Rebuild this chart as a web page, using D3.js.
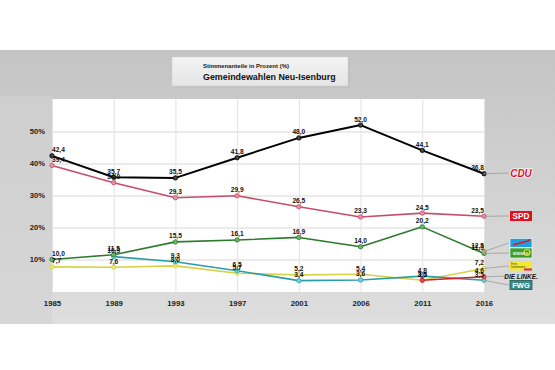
<!DOCTYPE html>
<html>
<head>
<meta charset="utf-8">
<script src="https://cdn.jsdelivr.net/npm/d3@7"></script>
<style>
  body { margin: 0; background: #fff; }
  svg { display: block; font-family: Arial, "Liberation Sans", sans-serif; }
</style>
</head>
<body>
<svg id="chart" width="555" height="370"></svg>
<script>
// data
const years = ["1985", "1989", "1993", "1997", "2001", "2006", "2011", "2016"];
const cdu    = [42.4, 35.7, 35.5, 41.8, 48.0, 52.0, 44.1, 36.8];
const spd    = [39.4, 34.0, 29.3, 29.9, 26.5, 23.3, 24.5, 23.5];
const gruene = [10.0, 11.5, 15.5, 16.1, 16.9, 14.0, 20.2, 11.9];
const fwg    = [null, 10.9, 9.3, 6.5, 3.4, 3.6, 4.8, 3.5];
const fdp    = [7.7, 7.6, 8.0, 5.7, 5.2, 5.4, 3.5, 7.2];
const linke  = [null, null, null, null, null, null, 3.5, 4.6];
const afd    = [null, null, null, null, null, null, null, 12.5];
const yTicks = [10, 20, 30, 40, 50];

const svg = d3.select("#chart");
const W = 555;

// background band
const defs = svg.append("defs");
const bg = defs.append("linearGradient").attr("id", "bg").attr("x1", 0).attr("y1", 0).attr("x2", 0).attr("y2", 1);
bg.append("stop").attr("offset", "0%").attr("stop-color", "#c4c4c4");
bg.append("stop").attr("offset", "100%").attr("stop-color", "#dedede");
const tb = defs.append("linearGradient").attr("id", "tb").attr("x1", 0).attr("y1", 0).attr("x2", 0).attr("y2", 1);
tb.append("stop").attr("offset", "0%").attr("stop-color", "#f4f4f4");
tb.append("stop").attr("offset", "100%").attr("stop-color", "#e4e4e4");

svg.append("rect").attr("x", 0).attr("y", 50).attr("width", W).attr("height", 274).attr("fill", "url(#bg)");
svg.append("rect").attr("x", 0).attr("y", 96).attr("width", 52).attr("height", 228).attr("fill", "#d2d2d2").attr("opacity", 0.6);

const x = d3.scalePoint().domain(years).range([52, 484]);
const y = d3.scaleLinear().domain([0, 60]).range([291.5, 99.5]);

// plot area
svg.append("rect").attr("x", 52).attr("y", 99).attr("width", 432).attr("height", 193).attr("fill", "#fff");

// title box
svg.append("rect").attr("x", 173).attr("y", 58).attr("width", 176).attr("height", 29)
  .attr("fill", "#bbb").attr("opacity", 0.5).attr("transform", "translate(1,1)");
svg.append("rect").attr("x", 172).attr("y", 57).attr("width", 176).attr("height", 29)
  .attr("fill", "url(#tb)").attr("stroke", "#d0d0d0").attr("stroke-width", 0.5);
svg.append("text").attr("x", 203).attr("y", 67.5).attr("font-size", 6).attr("font-weight", "bold")
  .attr("fill", "#222").text("Stimmenanteile in Prozent (%)");
svg.append("text").attr("x", 203).attr("y", 80).attr("font-size", 8.9).attr("font-weight", "bold")
  .attr("fill", "#111").text("Gemeindewahlen Neu-Isenburg");

// grid
svg.append("g").attr("transform", "translate(52,0)")
  .call(d3.axisLeft(y).tickValues(yTicks).tickSize(-432).tickFormat(""))
  .call(g => g.select(".domain").remove())
  .call(g => g.selectAll("line").attr("stroke", "#e4e4e4").attr("stroke-width", 1.5));
svg.append("g").attr("transform", "translate(0,292)")
  .call(d3.axisBottom(x).tickSize(-193).tickFormat(""))
  .call(g => g.select(".domain").remove())
  .call(g => g.selectAll("line").attr("stroke", "#e2e2e2").attr("stroke-width", 1));

// axes labels
svg.append("g").attr("transform", "translate(47,0)")
  .call(d3.axisLeft(y).tickValues(yTicks).tickSize(0).tickPadding(2).tickFormat(d => d + "%"))
  .call(g => g.select(".domain").remove())
  .call(g => g.selectAll("text").attr("font-size", 7.6).attr("font-weight", "bold").attr("fill", "#222")
    .attr("font-family", "Arial, 'Liberation Sans', sans-serif"));
svg.append("g").attr("transform", "translate(0,292)")
  .call(d3.axisBottom(x).tickSize(0).tickPadding(8))
  .call(g => g.select(".domain").remove())
  .call(g => g.selectAll("text").attr("font-size", 7.8).attr("font-weight", "bold").attr("fill", "#222")
    .attr("font-family", "Arial, 'Liberation Sans', sans-serif"));

// series
const series = [
  { name: "fdp", values: fdp, color: "#d6d244", fill: "#ecea70", w: 1.6 },
  { name: "fwg", values: fwg, color: "#2a9ea8", fill: "#6fd6e6", w: 1.6 },
  { name: "linke", values: linke, color: "#d21f2e", fill: "#f04050", w: 1.6 },
  { name: "gruene", values: gruene, color: "#2c7a2c", fill: "#6ab86a", w: 1.6 },
  { name: "afd", values: afd, color: "#3a9ad8", fill: "#e0a040", w: 1.2 },
  { name: "spd", values: spd, color: "#c64e6a", fill: "#e890a4", w: 1.6 },
  { name: "cdu", values: cdu, color: "#000", fill: "#444", w: 2 }
];

const line = d3.line()
  .defined(d => d.v != null)
  .x(d => x(d.year))
  .y(d => y(d.v));

series.forEach(s => {
  const pts = years.map((yr, i) => ({ year: yr, v: s.values[i], i }));
  svg.append("path").datum(pts).attr("fill", "none").attr("stroke", s.color)
    .attr("stroke-width", s.w).attr("stroke-linejoin", "round").attr("d", line);
  svg.append("g").selectAll("circle").data(pts.filter(d => d.v != null)).join("circle")
    .attr("cx", d => x(d.year)).attr("cy", d => y(d.v)).attr("r", 2.2)
    .attr("fill", s.fill).attr("stroke", s.color).attr("stroke-width", 0.8);
});

// value labels
const fmt = v => d3.format(".1f")(v).replace(".", ",");
series.forEach(s => {
  const pts = years.map((yr, i) => ({ year: yr, v: s.values[i], i })).filter(d => d.v != null);
  svg.append("g").selectAll("text").data(pts).join("text")
    .attr("x", d => x(d.year)).attr("y", d => y(d.v) - 3.5)
    .attr("text-anchor", d => d.i === 0 ? "start" : d.i === years.length - 1 ? "end" : "middle")
    .attr("font-size", 6.6).attr("font-weight", "bold").attr("fill", "#111")
    .text(d => fmt(d.v));
});

// party logos with leader lines
const last = years[years.length - 1];
const lx = x(last);
const logos = [
  { v: cdu[7], ty: 173 },
  { v: spd[7], ty: 216 },
  { v: afd[7], ty: 243 },
  { v: gruene[7], ty: 253 },
  { v: fdp[7], ty: 266 },
  { v: linke[7], ty: 276 },
  { v: fwg[7], ty: 285 }
];
svg.append("g").selectAll("line").data(logos).join("line")
  .attr("x1", lx).attr("y1", d => y(d.v)).attr("x2", 509).attr("y2", d => d.ty)
  .attr("stroke", "#9a9a9a").attr("stroke-width", 0.8);

const lg = svg.append("g");
// CDU
lg.append("text").attr("x", 521).attr("y", 177).attr("text-anchor", "middle")
  .attr("font-size", 10).attr("font-weight", "bold").attr("font-style", "italic")
  .attr("fill", "#d8102a").attr("stroke", "#fff").attr("stroke-width", 1.6).attr("paint-order", "stroke").text("CDU");
// SPD
lg.append("rect").attr("x", 510).attr("y", 211).attr("width", 22).attr("height", 10).attr("fill", "#e0101e");
lg.append("text").attr("x", 521).attr("y", 219.2).attr("text-anchor", "middle")
  .attr("font-size", 8.2).attr("font-weight", "bold").attr("fill", "#fff").text("SPD");
// AfD
lg.append("rect").attr("x", 510).attr("y", 238.5).attr("width", 22).attr("height", 9).attr("fill", "#1ea0e0").attr("stroke", "#fff").attr("stroke-width", 0.6);
lg.append("path").attr("d", "M513,245 L520,243 L528,241 L530,239.5").attr("fill", "none").attr("stroke", "#e01818").attr("stroke-width", 1.6);
// Gruene
lg.append("rect").attr("x", 510).attr("y", 248).attr("width", 22).attr("height", 10).attr("fill", "#3aa02a").attr("stroke", "#fff").attr("stroke-width", 0.6);
lg.append("circle").attr("cx", 527).attr("cy", 252.5).attr("r", 3).attr("fill", "none").attr("stroke", "#e6e030").attr("stroke-width", 1.2);
lg.append("text").attr("x", 513).attr("y", 255).attr("font-size", 2.6).attr("font-weight", "bold").attr("fill", "#fff").text("BÜNDNIS 90");
// FDP
lg.append("rect").attr("x", 510).attr("y", 261.5).attr("width", 22).attr("height", 9).attr("fill", "#f2ea30");
lg.append("rect").attr("x", 524).attr("y", 268.5).attr("width", 8).attr("height", 2).attr("fill", "#e0187a");
lg.append("text").attr("x", 511).attr("y", 265).attr("font-size", 2.6).attr("fill", "#333").text("Freie");
lg.append("text").attr("x", 511).attr("y", 268).attr("font-size", 2.6).attr("fill", "#333").text("Demokraten");
// Linke
lg.append("text").attr("x", 521).attr("y", 279).attr("text-anchor", "middle")
  .attr("font-size", 6.4).attr("font-weight", "bold").attr("font-style", "italic").attr("fill", "#111").text("DIE LINKE.");
// FWG
lg.append("rect").attr("x", 510).attr("y", 280.5).attr("width", 22).attr("height", 9).attr("fill", "#3a8a88").attr("stroke", "#1e5a58").attr("stroke-width", 0.8);
lg.append("text").attr("x", 521).attr("y", 288).attr("text-anchor", "middle")
  .attr("font-size", 7.5).attr("font-weight", "bold").attr("fill", "#fff").text("FWG");
</script>
</body>
</html>
